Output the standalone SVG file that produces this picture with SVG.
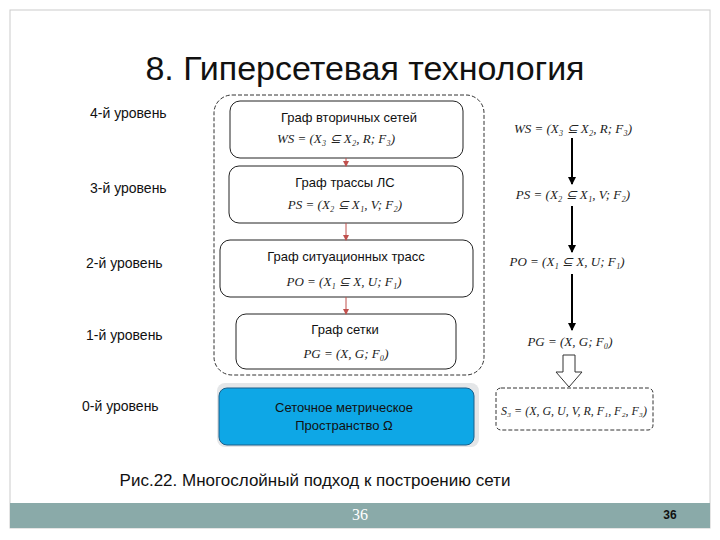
<svg xmlns="http://www.w3.org/2000/svg" width="720" height="540" viewBox="0 0 720 540">
<defs>
<style>
.s{font-family:"Liberation Sans",Arial,sans-serif;fill:#111}
.m{font-family:"Liberation Serif","Times New Roman",serif;font-style:italic;font-size:13px;fill:#222}
.box{fill:#fff;stroke:#222;stroke-width:1}
.dash{fill:none;stroke:#333;stroke-width:1;stroke-dasharray:4,2}
</style>
<marker id="ah" markerWidth="8" markerHeight="8" refX="7" refY="4" orient="auto" markerUnits="userSpaceOnUse"><path d="M0,0 L8,4 L0,8 z" fill="#000"/></marker>
<marker id="ar" markerWidth="6" markerHeight="6" refX="5" refY="3" orient="auto" markerUnits="userSpaceOnUse"><path d="M0,0 L6,3 L0,6 z" fill="#c0504d"/></marker>
</defs>
<rect x="0" y="0" width="720" height="540" fill="#fff"/>
<rect x="10" y="10" width="700" height="518" fill="#fff" stroke="#ccc"/>
<rect x="10" y="503" width="700" height="25" fill="#8aaaa9"/>
<text x="360" y="520" text-anchor="middle" font-family="Liberation Serif,serif" font-size="16" fill="#fff">36</text>
<text x="670" y="519" text-anchor="middle" class="s" font-size="12" font-weight="bold">36</text>
<text x="365" y="80" text-anchor="middle" class="s" font-size="34">8. Гиперсетевая технология</text>
<g id="levels" class="s" font-size="14">
<text x="90" y="118">4-й уровень</text>
<text x="90" y="193">3-й уровень</text>
<text x="86" y="268">2-й уровень</text>
<text x="86" y="340">1-й уровень</text>
<text x="82" y="411">0-й уровень</text>
</g>
<g id="outer"><rect x="214" y="95" width="270" height="280" rx="18" class="dash"/></g>
<g id="n4"><rect x="230" y="101" width="233" height="57" rx="10" class="box"/>
<text x="349" y="122" text-anchor="middle" class="s" font-size="13">Граф вторичных сетей</text>
<text x="336" y="143" text-anchor="middle" class="m">WS = (X₃ ⊆ X₂, R; F₃)</text></g>
<g id="n3"><rect x="229" y="166" width="234" height="57" rx="10" class="box"/>
<text x="345" y="187" text-anchor="middle" class="s" font-size="13">Граф трассы ЛС</text>
<text x="345" y="209" text-anchor="middle" class="m">PS = (X₂ ⊆ X₁, V; F₂)</text></g>
<g id="n2"><rect x="220" y="240" width="253" height="57" rx="10" class="box"/>
<text x="346" y="261" text-anchor="middle" class="s" font-size="13">Граф ситуационных трасс</text>
<text x="344" y="286" text-anchor="middle" class="m">PO = (X₁ ⊆ X, U; F₁)</text></g>
<g id="n1"><rect x="236" y="314" width="220" height="55" rx="10" class="box"/>
<text x="345" y="334" text-anchor="middle" class="s" font-size="13">Граф сетки</text>
<text x="346" y="358" text-anchor="middle" class="m">PG = (X, G; F₀)</text></g>
<g id="n0"><rect x="217" y="383" width="262" height="64" rx="8" fill="#e4e6e8"/>
<rect x="219" y="388" width="255" height="57" rx="8" fill="#0ea7e6" stroke="#1a5f8a"/>
<text x="344" y="412" text-anchor="middle" class="s" font-size="13">Сеточное метрическое</text>
<text x="344" y="430" text-anchor="middle" class="s" font-size="13">Пространство  Ω</text></g>
<g id="formulas">
<text x="573" y="133" text-anchor="middle" class="m">WS = (X₃ ⊆ X₂, R; F₃)</text>
<text x="573" y="199" text-anchor="middle" class="m">PS = (X₂ ⊆ X₁, V; F₂)</text>
<text x="567" y="266" text-anchor="middle" class="m">PO = (X₁ ⊆ X, U; F₁)</text>
<text x="570" y="346" text-anchor="middle" class="m">PG = (X, G; F₀)</text>
</g>
<g id="s3"><rect x="496" y="388" width="157" height="42" rx="5" class="dash"/>
<text x="574" y="415" text-anchor="middle" class="m" style="font-size:12px" textLength="146" lengthAdjust="spacingAndGlyphs">S₃ = (X, G, U, V, R, F₁, F₂, F₃)</text></g>
<g id="connectors">
<line x1="346" y1="158" x2="346" y2="166" stroke="#c0504d" marker-end="url(#ar)"/>
<line x1="346" y1="223" x2="346" y2="240" stroke="#c0504d" marker-end="url(#ar)"/>
<line x1="346" y1="297" x2="346" y2="314" stroke="#c0504d" marker-end="url(#ar)"/>
<line x1="572" y1="138" x2="572" y2="184" stroke="#000" stroke-width="2" marker-end="url(#ah)"/>
<line x1="572" y1="206" x2="572" y2="252" stroke="#000" stroke-width="2" marker-end="url(#ah)"/>
<line x1="572" y1="274" x2="572" y2="330" stroke="#000" stroke-width="2" marker-end="url(#ah)"/>
<path d="M563,355 H575 V372 H582 L569,387 L556,372 H563 Z" fill="#fff" stroke="#333"/>
</g>
<text x="315" y="486" text-anchor="middle" class="s" font-size="17">Рис.22. Многослойный подход к построению сети</text>
</svg>
